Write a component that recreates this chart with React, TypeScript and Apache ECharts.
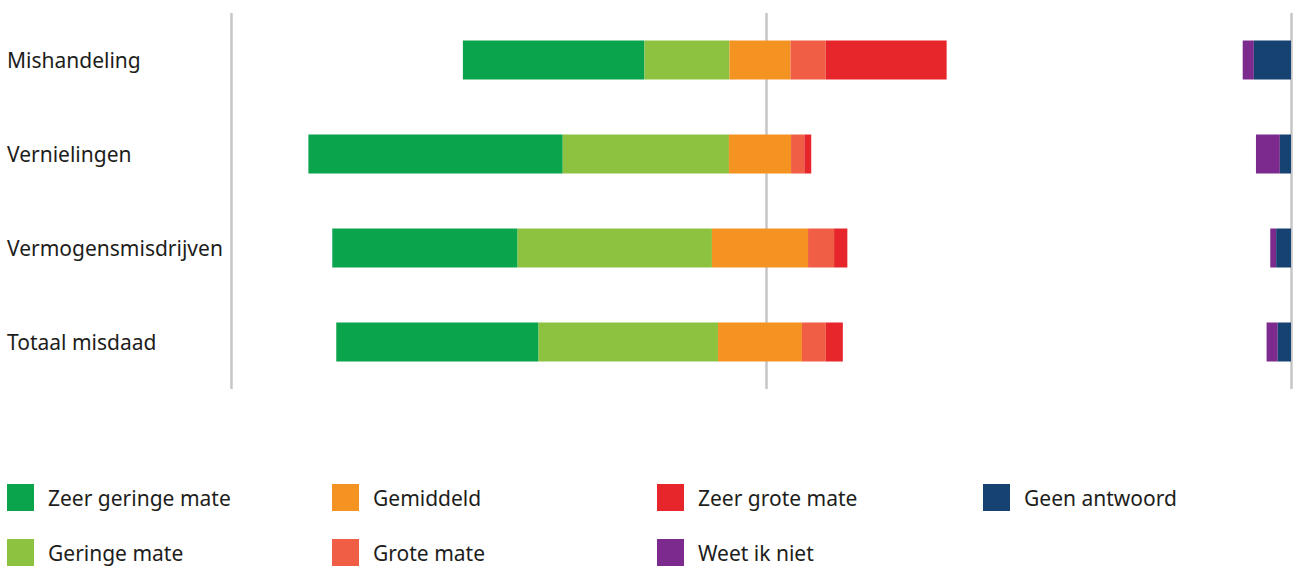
import { useEffect, useRef } from 'react';
import * as echarts from 'echarts';

const categories = ['Mishandeling', 'Vernielingen', 'Vermogensmisdrijven', 'Totaal misdaad'];
const zeerGeringe = [34.2, 47.9, 34.9, 38.1];
const geringe = [16.0, 31.3, 36.6, 33.8];
const gemiddeld = [11.5, 11.7, 18.1, 15.8];
const grote = [6.6, 2.5, 4.9, 4.5];
const zeerGrote = [22.8, 1.3, 2.5, 3.2];
const weetNiet = [2.1, 4.5, 1.1, 2.1];
const geenAntwoord = [7.0, 2.1, 2.8, 2.5];

const AXIS_MIN = -100;
const AXIS_MAX = 100;
const GUIDE_LINES = [-99.6, 1.2, 100];

const COLORS = {
  zeerGeringe: '#09a44b',
  geringe: '#8cc240',
  gemiddeld: '#f49322',
  grote: '#ef5e45',
  zeerGrote: '#e7262c',
  weetNiet: '#7d2a8f',
  geenAntwoord: '#164272',
};

const FONT = 'Noto Sans';
const TEXT_COLOR = '#1d1d1b';

export default function App() {
  const ref = useRef<HTMLDivElement>(null);
  useEffect(() => {
    const chart = echarts.init(ref.current!, null, { renderer: 'svg' });
    const leftStart = categories.map((_, i) => -(zeerGeringe[i] + geringe[i] + gemiddeld[i] / 2));
    const rightEnd = categories.map((_, i) => gemiddeld[i] / 2 + grote[i] + zeerGrote[i]);
    const gap = categories.map((_, i) => AXIS_MAX - weetNiet[i] - geenAntwoord[i] - rightEnd[i]);

    const barBase = {
      type: 'bar' as const,
      stack: 'total',
      stackStrategy: 'all' as const,
      barWidth: 39,
      silent: true,
    };
    const visible = (name: string, data: number[], color: string) => ({
      ...barBase,
      name,
      data,
      itemStyle: { color },
    });

    const legendCommon = {
      orient: 'vertical' as const,
      top: 484,
      padding: 0,
      itemWidth: 27,
      itemHeight: 27,
      itemGap: 28,
      icon: 'rect',
      selectedMode: false,
      textStyle: { fontSize: 21, color: TEXT_COLOR, fontFamily: FONT, padding: [0, 0, 0, 9] },
    };

    chart.setOption({
      animation: false,
      backgroundColor: '#ffffff',
      grid: { left: 229, right: 2, top: 13, height: 376 },
      xAxis: {
        type: 'value',
        min: AXIS_MIN,
        max: AXIS_MAX,
        axisLine: { show: false },
        axisTick: { show: false },
        axisLabel: { show: false },
        splitLine: { show: false },
      },
      yAxis: {
        type: 'category',
        inverse: true,
        data: categories,
        axisLine: { show: false },
        axisTick: { show: false },
        axisLabel: {
          align: 'left',
          margin: 222,
          fontSize: 21,
          color: TEXT_COLOR,
          fontFamily: FONT,
        },
      },
      legend: [
        { ...legendCommon, left: 7, data: ['Zeer geringe mate', 'Geringe mate'] },
        { ...legendCommon, left: 332, data: ['Gemiddeld', 'Grote mate'] },
        { ...legendCommon, left: 657, data: ['Zeer grote mate', 'Weet ik niet'] },
        { ...legendCommon, left: 983, data: ['Geen antwoord'] },
      ],
      series: [
        {
          ...barBase,
          name: 'offset',
          data: leftStart,
          itemStyle: { color: 'transparent' },
          markLine: {
            silent: true,
            z: 0,
            symbol: ['none', 'none'],
            label: { show: false },
            lineStyle: { type: 'solid', color: '#c6c6c6', width: 2.5 },
            data: GUIDE_LINES.map((v) => ({ xAxis: v })),
          },
        },
        visible('Zeer geringe mate', zeerGeringe, COLORS.zeerGeringe),
        visible('Geringe mate', geringe, COLORS.geringe),
        visible('Gemiddeld', gemiddeld, COLORS.gemiddeld),
        visible('Grote mate', grote, COLORS.grote),
        visible('Zeer grote mate', zeerGrote, COLORS.zeerGrote),
        { ...barBase, name: 'gap', data: gap, itemStyle: { color: 'transparent' } },
        visible('Weet ik niet', weetNiet, COLORS.weetNiet),
        visible('Geen antwoord', geenAntwoord, COLORS.geenAntwoord),
      ],
    });
    return () => chart.dispose();
  }, []);
  return <div ref={ref} style={{ position: 'absolute', left: 0, top: 0, width: 1293, height: 567 }} />;
}
